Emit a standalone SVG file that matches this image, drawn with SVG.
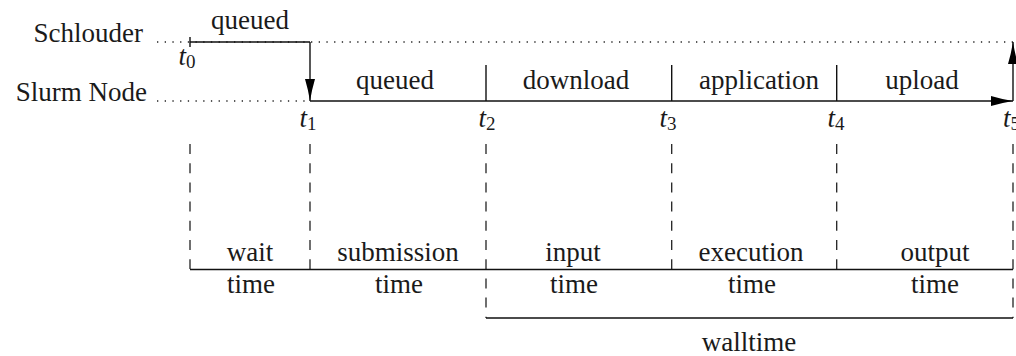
<svg xmlns="http://www.w3.org/2000/svg" width="1016" height="356" viewBox="0 0 1016 356">
<style>
text{font-family:"Liberation Serif","DejaVu Serif",serif;font-size:27px;fill:#1a1a1a}
.c{text-anchor:middle}
.e{text-anchor:end}
.t{font-style:italic}
.sub{font-style:normal;font-size:19px}
.solid{stroke:#111;stroke-width:1.4;fill:none}
.dot{stroke:#222;stroke-width:1.3;stroke-dasharray:1.3 6.4;fill:none}
.dash{stroke:#222;stroke-width:1.3;stroke-dasharray:10 9.2;fill:none}
</style>
<defs>
<marker id="ah" viewBox="-23 -6 24 12" refX="0" refY="0" markerWidth="24" markerHeight="12" markerUnits="userSpaceOnUse" orient="auto">
<path d="M-22,-5 Q-12,-2 0,0 Q-12,2 -22,5 z" fill="#000"/>
</marker>
</defs>
<rect width="1016" height="356" fill="#fff"/>
<g id="lanes" font-family="Liberation Serif, serif">
<text class="e" x="143" y="42">Schlouder</text>
<text class="e" x="147" y="101">Slurm Node</text>
<path class="dot" d="M157,42 H1013"/>
<path class="dot" d="M157,101 H310"/>
</g>
<g id="connectors">
<path class="solid" d="M190,37 V47 M190,42 H310"/>
<path class="solid" d="M310,42 V101" marker-end="url(#ah)"/>
<path class="solid" d="M310,101 H1013" marker-end="url(#ah)"/>
<path class="solid" d="M1013,101 V42" marker-end="url(#ah)"/>
<path class="solid" d="M486,65 V101 M671.7,65 V101 M836.7,65 V101"/>
<path class="dash" d="M190,144 V269 M310,144 V269 M671.7,144 V269 M836.7,144 V269"/>
<path class="dash" d="M486,144 V318 M1013,144 V318"/>
<path class="solid" d="M190,269.5 H1013 M486,318 H1013"/>
</g>
<g id="phase-labels">
<text class="c" x="250" y="29">queued</text>
<text class="c" x="395" y="89">queued</text>
<text class="c" x="576" y="89">download</text>
<text class="c" x="759" y="89">application</text>
<text class="c" x="922" y="89">upload</text>
</g>
<g id="time-marks">
<text class="c t" x="187" y="65">t<tspan class="sub" dy="3">0</tspan></text>
<text class="c t" x="308" y="127">t<tspan class="sub" dy="3">1</tspan></text>
<text class="c t" x="487" y="127">t<tspan class="sub" dy="3">2</tspan></text>
<text class="c t" x="668" y="127">t<tspan class="sub" dy="3">3</tspan></text>
<text class="c t" x="836" y="127">t<tspan class="sub" dy="3">4</tspan></text>
<text class="t" x="1003" y="127">t<tspan class="sub" dy="3">5</tspan></text>
</g>
<g id="wait-time">
<text class="c" x="250" y="261">wait</text>
<text class="c" x="251" y="293">time</text>
</g>
<g id="submission-time">
<text class="c" x="398" y="261">submission</text>
<text class="c" x="399" y="293">time</text>
</g>
<g id="input-time">
<text class="c" x="573" y="261">input</text>
<text class="c" x="574" y="293">time</text>
</g>
<g id="execution-time">
<text class="c" x="751" y="261">execution</text>
<text class="c" x="752" y="293">time</text>
</g>
<g id="output-time">
<text class="c" x="935" y="261">output</text>
<text class="c" x="935" y="293">time</text>
</g>
<g id="walltime">
<text class="c" x="749" y="351">walltime</text>
</g>
</svg>
